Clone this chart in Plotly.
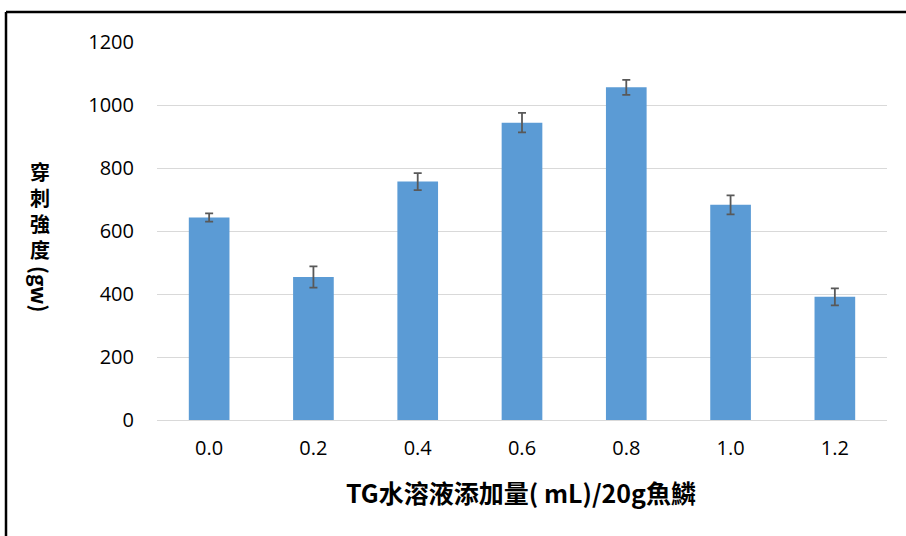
import plotly.graph_objects as go

categories = ["0.0", "0.2", "0.4", "0.6", "0.8", "1.0", "1.2"]
values = [643, 454, 757, 944, 1056, 683, 391]
errors = [13, 34, 27, 31, 24, 30, 27]
y_ticks = [0, 200, 400, 600, 800, 1000, 1200]
y_title_chars = ["穿", "刺", "強", "度"]

L, R, T, B = 157, 19, 42, 116
W, H = 906, 536
pw, ph = W - L - R, H - T - B

def px(x):
    return (x - L) / pw

def py(y):
    return (H - B - y) / ph

fig = go.Figure(go.Bar(
    x=categories, y=values,
    marker=dict(color="#5b9bd5", line=dict(width=0)),
    error_y=dict(type="data", array=errors, visible=True,
                 color="#595959", thickness=1.8, width=4),
    width=0.39,
))

tick_font = dict(family="Open Sans, Liberation Sans, sans-serif", size=20, color="#000000")
cjk = "Noto Sans CJK TC, Noto Sans CJK SC, sans-serif"

annotations = [
    dict(text="TG水溶液添加量( mL)/20g魚鱗", xref="paper", yref="paper",
         x=px(521), y=py(492), xanchor="center", yanchor="middle", showarrow=False,
         font=dict(family=cjk, size=25, color="#000000", weight="bold")),
    dict(text="<br>".join(y_title_chars), xref="paper", yref="paper",
         x=px(40), y=py(210), xanchor="center", yanchor="middle", showarrow=False,
         font=dict(family=cjk, size=20, color="#000000", weight="bold")),
    dict(text="(gw)", xref="paper", yref="paper", textangle=90,
         x=px(40), y=py(289), xanchor="center", yanchor="middle", showarrow=False,
         font=dict(family=cjk, size=21, color="#000000", weight="bold")),
]

fig.update_layout(
    width=W, height=H,
    margin=dict(l=L, r=R, t=T, b=B, pad=0),
    paper_bgcolor="white", plot_bgcolor="white",
    showlegend=False,
    xaxis=dict(showgrid=False, showline=False, ticks="", tickfont=tick_font,
               ticklabelstandoff=14),
    yaxis=dict(range=[0, 1200], tickvals=y_ticks, showgrid=True,
               gridcolor="#d9d9d9", gridwidth=1.2, zeroline=True,
               zerolinecolor="#d9d9d9", zerolinewidth=1.2, showline=False,
               ticks="", tickfont=tick_font, ticklabelstandoff=22),
    annotations=annotations,
    shapes=[
        dict(type="line", xref="paper", yref="paper",
             x0=px(6), x1=px(920), y0=py(12), y1=py(12),
             line=dict(color="black", width=2.5)),
        dict(type="line", xref="paper", yref="paper",
             x0=px(6), x1=px(6), y0=py(12), y1=py(560),
             line=dict(color="black", width=2.5)),
    ],
)

fig.write_html("out.html", config={"displayModeBar": False},
               post_script="document.body.style.margin='0';")
